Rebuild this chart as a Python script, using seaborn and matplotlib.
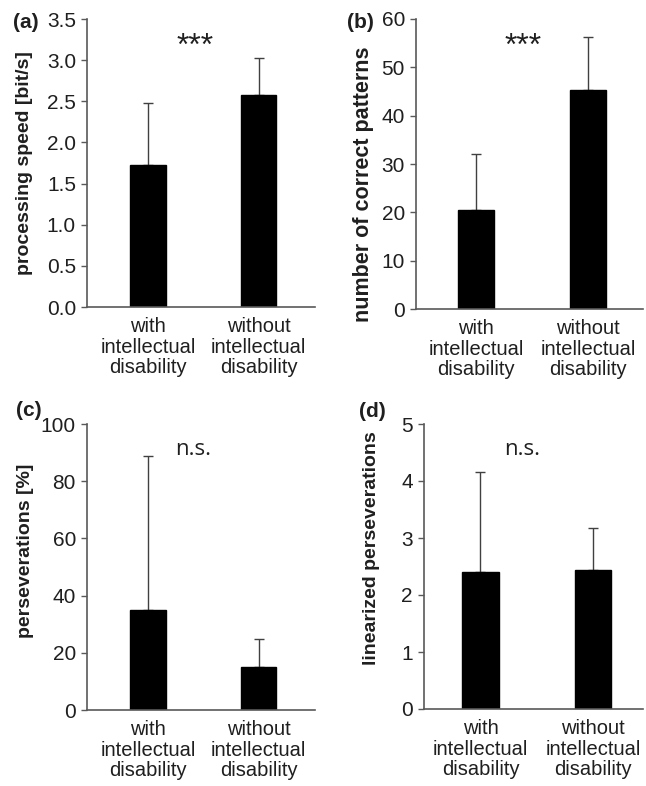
import matplotlib
matplotlib.use("Agg")
import matplotlib.pyplot as plt
import seaborn as sns
import pandas as pd

# ---- data ----
groups = ["with\nintellectual\ndisability", "without\nintellectual\ndisability"]

speed_mean = [1.72, 2.58]
speed_err = [0.76, 0.45]

patterns_mean = [20.4, 45.3]
patterns_err = [11.7, 10.9]

persev_pct_mean = [35.0, 14.9]
persev_pct_err = [53.9, 9.9]

persev_lin_mean = [2.41, 2.43]
persev_lin_err = [1.74, 0.75]

panel_letters = ["(a)", "(b)", "(c)", "(d)"]
ylabels = ["processing speed [bit/s]", "number of correct patterns",
           "perseverations [%]", "linearized perseverations"]
sig_labels = ["***", "***", "n.s.", "n.s."]
yticks_list = [[0.0, 0.5, 1.0, 1.5, 2.0, 2.5, 3.0, 3.5],
               [0, 10, 20, 30, 40, 50, 60],
               [0, 20, 40, 60, 80, 100],
               [0, 1, 2, 3, 4, 5]]
ytick_fmt = ["{:.1f}", "{:d}", "{:d}", "{:d}"]

means = [speed_mean, patterns_mean, persev_pct_mean, persev_lin_mean]
errs = [speed_err, patterns_err, persev_pct_err, persev_lin_err]

# ---- style ----
sns.set_theme(style="white")
plt.rcParams['font.family'] = ['Liberation Sans', 'DejaVu Sans']

W, H = 646, 786
fig = plt.figure(figsize=(W / 100, H / 100), dpi=100)

# axes boxes in pixels: left, right, top, bottom
boxes = [(87, 315, 19, 307), (416, 643, 19, 309),
         (87, 315, 424, 710), (424, 643, 424, 709)]
xlims = [(-0.55, 1.51), (-0.54, 1.49), (-0.55, 1.51), (-0.50, 1.44)]
ylabel_pos = [(25, 163), (364, 184), (26, 551), (371, 548)]
ylabel_size = [14, 15.5, 14, 14]
letter_pos = [(26, 22), (360, 22), (29, 410), (372, 411)]
sig_pos = [(195, 32), (523, 32), (193, 455), (522, 455)]

spine_col = "#595959"
text_col = "#1f1f1f"

for i in range(4):
    l, r, t, b = boxes[i]
    ax = fig.add_axes([l / W, 1 - b / H, (r - l) / W, (b - t) / H])
    df = pd.DataFrame({"group": groups, "value": means[i]})
    sns.barplot(data=df, x="group", y="value", color="black", width=0.32,
                saturation=1, ax=ax, edgecolor="black", zorder=2)
    ax.errorbar(x=[0, 1], y=means[i], yerr=[[0, 0], errs[i]], fmt="none",
                ecolor="#404040", elinewidth=1.0, capsize=3.5, capthick=1.0,
                zorder=1)
    ax.set_xlim(*xlims[i])
    yt = yticks_list[i]
    ax.set_ylim(yt[0], yt[-1])
    ax.set_yticks(yt)
    ax.set_yticklabels([ytick_fmt[i].format(v) for v in yt], fontsize=15,
                       color=text_col)
    ax.set_xticks([0, 1])
    ax.set_xticklabels(groups, fontsize=14.5, color=text_col, linespacing=1.12)
    ax.set_xlabel("")
    ax.set_ylabel("")
    for s in ["top", "right"]:
        ax.spines[s].set_visible(False)
    for s in ["left", "bottom"]:
        ax.spines[s].set_color(spine_col)
        ax.spines[s].set_linewidth(1.2)
    ax.tick_params(axis="y", direction="out", length=4, width=1.0,
                   color=spine_col, pad=4, left=True)
    ax.tick_params(axis="x", length=0, pad=7)

    # y label
    lx, ly = ylabel_pos[i]
    fig.text(lx / W, 1 - ly / H, ylabels[i], rotation=90, ha="center",
             va="center", fontsize=ylabel_size[i], fontweight="bold",
             color=text_col)
    # panel letter
    px, py = letter_pos[i]
    fig.text(px / W, 1 - py / H, panel_letters[i], ha="center", va="center",
             fontsize=15, fontweight="bold", color=text_col)
    # significance
    sx, sy = sig_pos[i]
    if sig_labels[i] == "***":
        fig.text(sx / W, 1 - sy / H, sig_labels[i], ha="center", va="top",
                 fontsize=23, color=text_col)
    else:
        fig.text(sx / W, 1 - sy / H, sig_labels[i], ha="center",
                 va="baseline", fontsize=16, color=text_col,
                 family=["Open Sans", "DejaVu Sans"])

fig.savefig("out.png", dpi=100)
